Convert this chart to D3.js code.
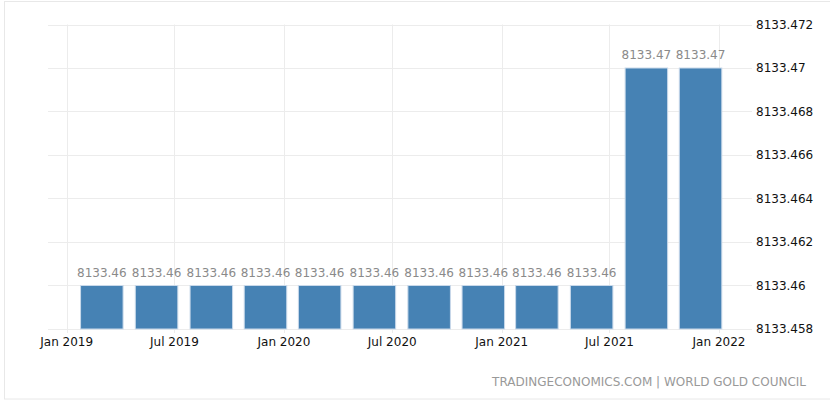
<!DOCTYPE html>
<html><head><meta charset="utf-8">
<script src="https://cdn.jsdelivr.net/npm/d3@7"></script>
<style>body{margin:0;background:#fff}svg{display:block;font-family:"DejaVu Sans",Verdana,sans-serif}</style>
</head><body><svg id="c" width="830" height="402"></svg>
<script>
const dates = ["2019-03-01","2019-06-01","2019-09-01","2019-12-01","2020-03-01","2020-06-01","2020-09-01","2020-12-01","2021-03-01","2021-06-01","2021-09-01","2021-12-01"];
const values = [8133.46,8133.46,8133.46,8133.46,8133.46,8133.46,8133.46,8133.46,8133.46,8133.46,8133.47,8133.47];
const yTicks = [8133.458,8133.46,8133.462,8133.464,8133.466,8133.468,8133.47,8133.472];
const yTickLabels = ["8133.458","8133.46","8133.462","8133.464","8133.466","8133.468","8133.47","8133.472"];
const xTicks = ["2019-01-01","2019-07-01","2020-01-01","2020-07-01","2021-01-01","2021-07-01","2022-01-01"];
const xTickLabels = ["Jan 2019","Jul 2019","Jan 2020","Jul 2020","Jan 2021","Jul 2021","Jan 2022"];
const source = "TRADINGECONOMICS.COM | WORLD GOLD COUNCIL";

const svg = d3.select("#c");
const parse = d3.utcParse("%Y-%m-%d");
const x = d3.scaleUtc().domain([parse("2019-01-01"), parse("2022-01-01")]).range([66.7, 719]);
const y = d3.scaleLinear().domain([8133.458, 8133.472]).range([329, 24.5]);
const left = 48, right = 752, barW = 42.5;

svg.append("rect").attr("x",4.5).attr("y",1.5).attr("width",840).attr("height",397.5)
  .attr("fill","none").attr("stroke","#e8e8e8");

// horizontal grid
svg.append("g").selectAll("line").data(yTicks).join("line")
  .attr("x1",left).attr("x2",right).attr("y1",d=>Math.round(y(d))+0.5).attr("y2",d=>Math.round(y(d))+0.5)
  .attr("stroke","#ececec");
// vertical grid
svg.append("g").selectAll("line").data(xTicks).join("line")
  .attr("x1",d=>Math.round(x(parse(d)))+0.5).attr("x2",d=>Math.round(x(parse(d)))+0.5)
  .attr("y1",y(8133.472)).attr("y2",y(8133.458)+4)
  .attr("stroke","#ececec");

// bars
svg.append("g").selectAll("rect").data(values).join("rect")
  .attr("x",(d,i)=>x(parse(dates[i]))-barW/2).attr("width",barW)
  .attr("y",d=>y(d)).attr("height",d=>y(8133.458)-y(d))
  .attr("fill","#4682b4").attr("stroke","#c9d9ea").attr("stroke-width",1);

// value labels
svg.append("g").selectAll("text").data(values).join("text")
  .attr("x",(d,i)=>x(parse(dates[i]))).attr("y",d=>y(d)-9)
  .attr("text-anchor","middle").attr("font-size",12).attr("fill","#8a8a8a")
  .text(d=>String(d));

// y axis labels
svg.append("g").selectAll("text").data(yTicks).join("text")
  .attr("x",756).attr("y",d=>y(d)).attr("dy","0.35em")
  .attr("font-size",12).attr("fill","#111")
  .text((d,i)=>yTickLabels[i]);

// x axis labels
svg.append("g").selectAll("text").data(xTicks).join("text")
  .attr("x",d=>x(parse(d))).attr("y",341.5).attr("dy","0.35em")
  .attr("text-anchor","middle").attr("font-size",12).attr("fill","#111")
  .text((d,i)=>xTickLabels[i]);

svg.append("text").attr("x",806).attr("y",381.5).attr("dy","0.35em")
  .attr("text-anchor","end").attr("font-size",12).attr("fill","#999")
  .text(source);
</script></body></html>
